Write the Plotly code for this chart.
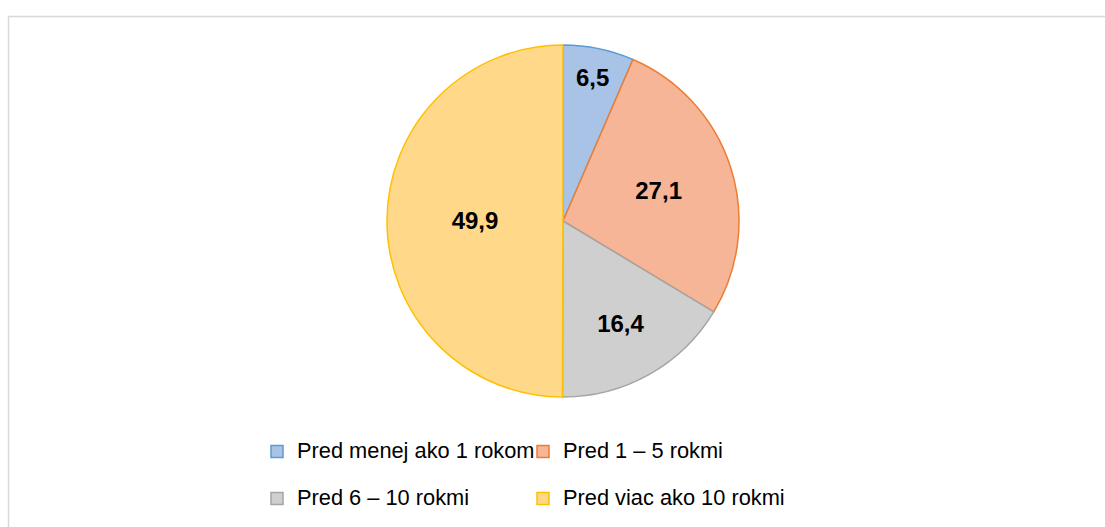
import plotly.graph_objects as go

labels = ["Pred menej ako 1 rokom", "Pred 1 – 5 rokmi", "Pred 6 – 10 rokmi", "Pred viac ako 10 rokmi"]
values = [6.5, 27.1, 16.4, 49.9]
fill_colors = ["#A9C3E6", "#F5B596", "#CFCFCF", "#FFD88A"]
line_colors = ["#5B9BD5", "#ED7D31", "#A5A5A5", "#FFC000"]

W, H = 1105, 527
ML, MR = 250, 250
PW = W - ML - MR

def px_x(p):
    return (p - ML) / PW

def px_y(p):
    return 1 - p / H

# empty first line gives the legend rows their Excel-like spacing
legend_names = [f' <br><span style="font-size:21.8px">{lab}</span>' for lab in labels]

fig = go.Figure(go.Pie(
    labels=legend_names,
    values=values,
    sort=False,
    direction="clockwise",
    rotation=0,
    marker=dict(colors=fill_colors, line=dict(color=line_colors, width=1.5)),
    textinfo="value",
    textposition="inside",
    insidetextorientation="horizontal",
    textfont=dict(family="Liberation Sans", size=24, color="black", weight="bold"),
    domain=dict(x=[px_x(387), px_x(739)], y=[px_y(397), px_y(45)]),
    hoverinfo="skip",
))

border_path = (
    f"M {px_x(8.5)},{px_y(527)} "
    f"L {px_x(8.5)},{px_y(16.5)} "
    f"L {px_x(1105)},{px_y(16.5)}"
)

fig.update_layout(
    width=W, height=H,
    margin=dict(l=ML, r=MR, t=0, b=0),
    paper_bgcolor="white",
    plot_bgcolor="white",
    separators=", ",
    font=dict(family="Liberation Sans", color="#000000"),
    legend=dict(
        orientation="h",
        x=px_x(257), xanchor="left",
        y=px_y(412), yanchor="top",
        entrywidth=221, entrywidthmode="pixels",
        valign="bottom",
        font=dict(family="Liberation Sans", size=16.9, color="#000000"),
        bgcolor="rgba(0,0,0,0)",
        traceorder="normal",
    ),
    shapes=[dict(
        type="path", xref="paper", yref="paper",
        path=border_path,
        line=dict(color="#D9D9D9", width=1.5),
    )],
)

fig.write_html(
    "out.html",
    config={"displayModeBar": False},
    post_script=(
        "document.body.style.margin='0';"
        "document.body.style.overflow='hidden';"
        "document.documentElement.style.overflow='hidden';"
        "document.querySelectorAll('.main-svg').forEach(function(s){s.style.overflow='hidden';});"
    ),
)
